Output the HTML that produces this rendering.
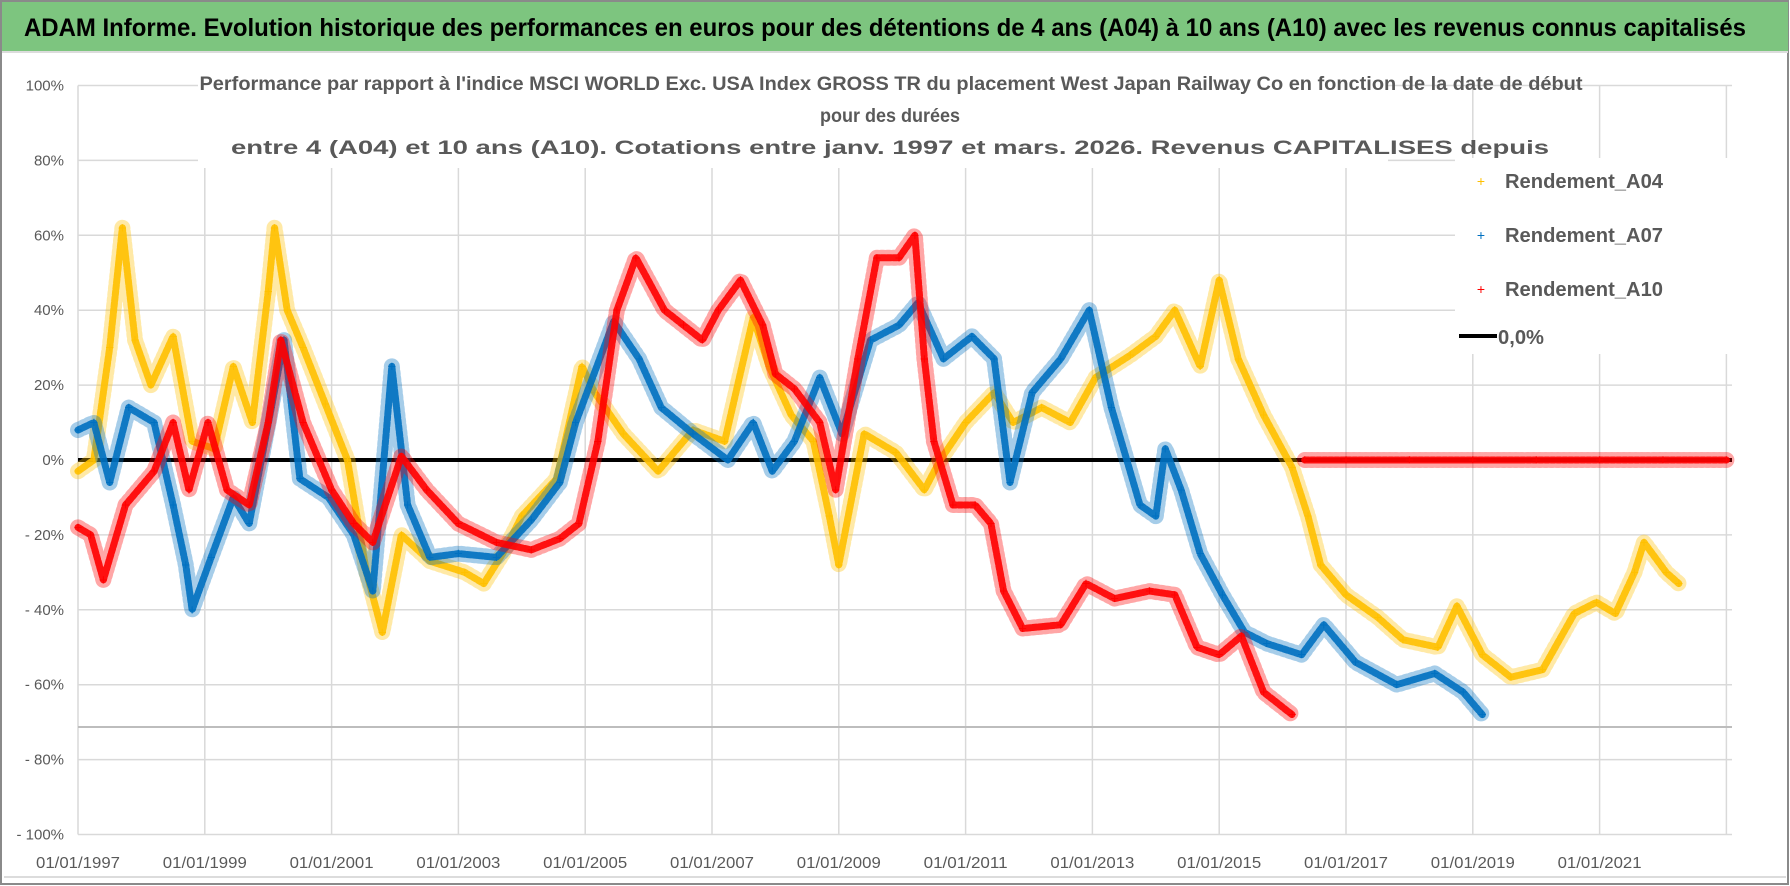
<!DOCTYPE html>
<html><head><meta charset="utf-8">
<style>
html,body{margin:0;padding:0;background:#fff;}
svg{display:block;font-family:"Liberation Sans Narrow","Liberation Sans",sans-serif;}
</style></head>
<body>
<svg id="chart" width="1790" height="886" viewBox="0 0 1790 886" xmlns="http://www.w3.org/2000/svg">
  <rect x="0" y="0" width="1790" height="886" fill="#ffffff"/>
  <rect x="1" y="1" width="1787" height="883" fill="none" stroke="#8a8a8a" stroke-width="2"/>
  <rect x="2" y="2" width="1786" height="49" fill="#7dc57f"/>
  <line x1="2" y1="52" x2="1788" y2="52" stroke="#dcdcdc" stroke-width="2"/>
  <text x="24" y="36" font-size="25" font-weight="bold" fill="#000" textLength="1722" lengthAdjust="spacingAndGlyphs">ADAM Informe. Evolution historique des performances en euros pour des détentions de 4 ans (A04) à 10 ans (A10) avec les revenus connus capitalisés</text>
  <line x1="4" y1="877" x2="1786" y2="877" stroke="#dcdcdc" stroke-width="2"/>
  <g id="grid"></g>
  <g id="ylabels"></g>
  <g id="xlabels"></g>
  <line x1="78" y1="727" x2="1732" y2="727" stroke="#bdbdbd" stroke-width="2"/>
  <g id="series"></g>
  <rect x="198" y="58" width="1190" height="110" fill="#fff"/>
  <g fill="#595959" font-weight="bold" font-size="19" text-anchor="middle">
    <text x="891" y="90" textLength="1383" lengthAdjust="spacingAndGlyphs">Performance par rapport à l'indice MSCI WORLD Exc. USA Index GROSS TR  du placement West Japan Railway Co en fonction de la date de début</text>
    <text x="890" y="122" textLength="140" lengthAdjust="spacingAndGlyphs">pour des durées</text>
    <text x="890" y="154" textLength="1318" lengthAdjust="spacingAndGlyphs">entre 4 (A04) et 10 ans (A10). Cotations entre janv. 1997 et mars. 2026. Revenus CAPITALISES depuis</text>
  </g>
  <rect x="1455" y="158" width="282" height="196" fill="#fff"/>
  <g font-size="20" font-weight="bold" fill="#595959">
    <g><text x="1481" y="186" fill="#ffc000" font-size="14" font-weight="normal" text-anchor="middle">+</text><text x="1505" y="188" textLength="158" lengthAdjust="spacingAndGlyphs">Rendement_A04</text></g>
    <g><text x="1481" y="240" fill="#0070c0" font-size="14" font-weight="normal" text-anchor="middle">+</text><text x="1505" y="242" textLength="158" lengthAdjust="spacingAndGlyphs">Rendement_A07</text></g>
    <g><text x="1481" y="294" fill="#ff0000" font-size="14" font-weight="normal" text-anchor="middle">+</text><text x="1505" y="296" textLength="158" lengthAdjust="spacingAndGlyphs">Rendement_A10</text></g>
    <g><line x1="1459" y1="336" x2="1497" y2="336" stroke="#000" stroke-width="4"/><text x="1498" y="344" textLength="46" lengthAdjust="spacingAndGlyphs">0,0%</text></g>
  </g>
</svg>
<script>
const yTicks = [100,80,60,40,20,0,-20,-40,-60,-80,-100];
const yTickLabels = ["100%","80%","60%","40%","20%","0%","- 20%","- 40%","- 60%","- 80%","- 100%"];
const xTicks = [1997,1999,2001,2003,2005,2007,2009,2011,2013,2015,2017,2019,2021,2023];
const xTickLabels = ["01/01/1997","01/01/1999","01/01/2001","01/01/2003","01/01/2005","01/01/2007","01/01/2009","01/01/2011","01/01/2013","01/01/2015","01/01/2017","01/01/2019","01/01/2021",""];

const a04Dates = [1997.0,1997.25,1997.5,1997.7,1997.9,1998.15,1998.5,1998.8,1999.15,1999.45,1999.75,2000.0,2000.1,2000.3,2000.55,2000.9,2001.25,2001.55,2001.8,2002.1,2002.55,2003.1,2003.4,2003.7,2004.0,2004.55,2004.95,2005.15,2005.6,2006.15,2006.7,2007.2,2007.65,2007.9,2008.25,2008.6,2008.85,2009.0,2009.4,2009.9,2010.35,2010.6,2011.0,2011.45,2011.75,2012.2,2012.65,2013.05,2013.6,2014.0,2014.3,2014.7,2015.0,2015.3,2015.7,2016.15,2016.4,2016.6,2017.0,2017.5,2017.9,2018.45,2018.75,2019.15,2019.6,2020.1,2020.6,2020.95,2021.25,2021.55,2021.7,2022.05,2022.25];
const a04Values = [-3,0,30,62,32,20,33,5,3,25,10,45,62,40,30,15,0,-30,-46,-20,-27,-30,-33,-25,-15,-5,25,18,7,-3,8,5,38,25,12,5,-15,-28,7,2,-8,0,10,18,10,14,10,22,28,33,40,25,48,27,12,-2,-15,-28,-36,-42,-48,-50,-39,-52,-58,-56,-41,-38,-41,-30,-22,-30,-33];

const a07Dates = [1997.0,1997.25,1997.5,1997.8,1998.2,1998.5,1998.7,1998.8,1999.1,1999.45,1999.7,2000.05,2000.25,2000.5,2000.95,2001.35,2001.65,2001.95,2002.2,2002.55,2003.0,2003.6,2004.15,2004.6,2004.85,2005.45,2005.85,2006.2,2006.7,2007.25,2007.65,2007.95,2008.3,2008.7,2009.05,2009.5,2009.95,2010.25,2010.65,2011.1,2011.45,2011.7,2012.05,2012.5,2012.95,2013.3,2013.75,2014.0,2014.15,2014.4,2014.7,2015.05,2015.4,2015.75,2016.3,2016.65,2017.15,2017.8,2018.4,2018.85,2019.15];
const a07Values = [8,10,-6,14,10,-12,-28,-40,-26,-10,-17,14,32,-5,-10,-20,-35,25,-12,-26,-25,-26,-16,-6,10,37,27,14,7,0,10,-3,5,22,7,32,36,42,27,33,27,-6,18,27,40,14,-12,-15,3,-8,-25,-36,-46,-49,-52,-44,-54,-60,-57,-62,-68];

const a10Dates = [1997.0,1997.2,1997.4,1997.75,1998.2,1998.5,1998.75,1999.05,1999.35,1999.7,2000.0,2000.2,2000.55,2001.0,2001.35,2001.65,2002.1,2002.5,2003.0,2003.6,2004.15,2004.6,2004.9,2005.2,2005.5,2005.8,2006.25,2006.55,2006.85,2007.1,2007.45,2007.8,2008.0,2008.3,2008.7,2008.95,2009.3,2009.6,2009.95,2010.2,2010.35,2010.5,2010.8,2011.15,2011.4,2011.6,2011.9,2012.5,2012.9,2013.35,2013.9,2014.3,2014.65,2015.0,2015.35,2015.7,2016.15,2016.25,2016.35,2017,2018,2019,2020,2021,2022,2023];
const a10Values = [-18,-20,-32,-12,-3,10,-8,10,-8,-12,10,32,10,-8,-17,-22,1,-8,-17,-22,-24,-21,-17,5,40,54,40,36,32,40,48,36,23,19,10,-8,27,54,54,60,27,5,-12,-12,-17,-35,-45,-44,-33,-37,-35,-36,-50,-52,-47,-62,-68,null,0,0,0,0,0,0,0,0];

const NS = "http://www.w3.org/2000/svg";
const X0 = 78, XR = 1732, PX = 63.4;
function xScale(yr){ return X0 + (yr - 1997) * PX; }
function yScale(v){ return 460 - v * 3.745; }
function mk(tag, attrs, parent){ const e = document.createElementNS(NS, tag); for (const k in attrs) e.setAttribute(k, attrs[k]); parent.appendChild(e); return e; }

const grid = document.getElementById('grid');
yTicks.forEach(function(t){
  const l = mk('line', {x1:X0, x2:XR, y1:yScale(t), y2:yScale(t), stroke:'#d9d9d9', 'stroke-width':1.5}, grid);
  
  
});
xTicks.forEach(function(t){
  const l = mk('line', {x1:xScale(t), x2:xScale(t), y1:yScale(100), y2:yScale(-100), stroke:'#d9d9d9', 'stroke-width':1.5}, grid);
  
  
});
const yl = document.getElementById('ylabels');
yTicks.forEach(function(t, i){
  const e = mk('text', {x:64, y:yScale(t)+5, 'text-anchor':'end', 'font-size':15, fill:'#595959'}, yl);
  e.textContent = yTickLabels[i];
  
  
});
const xl = document.getElementById('xlabels');
xTicks.forEach(function(t, i){
  const e = mk('text', {x:xScale(t), y:868, 'text-anchor':'middle', 'font-size':16, fill:'#595959', textLength: xTickLabels[i] ? 84 : 0, lengthAdjust:'spacingAndGlyphs'}, xl);
  e.textContent = xTickLabels[i];
  
  
});

const ser = document.getElementById('series');
const zl = mk('line', {x1:X0, x2:XR, y1:yScale(0), y2:yScale(0), stroke:'#000', 'stroke-width':4}, ser);



function drawSeries(dates, values, color, name){
  const g = mk('g', {}, ser);
  
  
  let seg = [];
  const segs = [];
  for (let i = 0; i < dates.length; i++){
    if (values[i] === null){ if (seg.length) segs.push(seg); seg = []; continue; }
    seg.push([xScale(dates[i]), yScale(values[i])]);
  }
  if (seg.length) segs.push(seg);
  segs.forEach(function(s){
    const pts = s.map(function(q){return q.join(',');}).join(' ');
    const halo = mk('polyline', {points:pts, fill:'none', stroke:color, 'stroke-width':16, 'stroke-linejoin':'round', 'stroke-linecap':'round', opacity:0.35, 'stroke-dasharray':'2 4'}, g);
    
    
    const p = mk('polyline', {points:pts, fill:'none', stroke:color, 'stroke-width':7, 'stroke-linejoin':'round', 'stroke-linecap':'round', opacity:0.9, 'stroke-dasharray':'4 2'}, g);
    
    
  });
  for (let i = 0; i < dates.length; i++){
    if (values[i] === null) continue;
    const t = mk('text', {x:xScale(dates[i]), y:yScale(values[i])+5, 'text-anchor':'middle', 'font-size':15, fill:color}, g);
    t.textContent = '+';
    
    
  }
}
drawSeries(a04Dates, a04Values, '#ffc000', 'series-a04');
drawSeries(a07Dates, a07Values, '#0070c0', 'series-a07');
drawSeries(a10Dates, a10Values, '#ff0000', 'series-a10');
</script>
</body></html>
